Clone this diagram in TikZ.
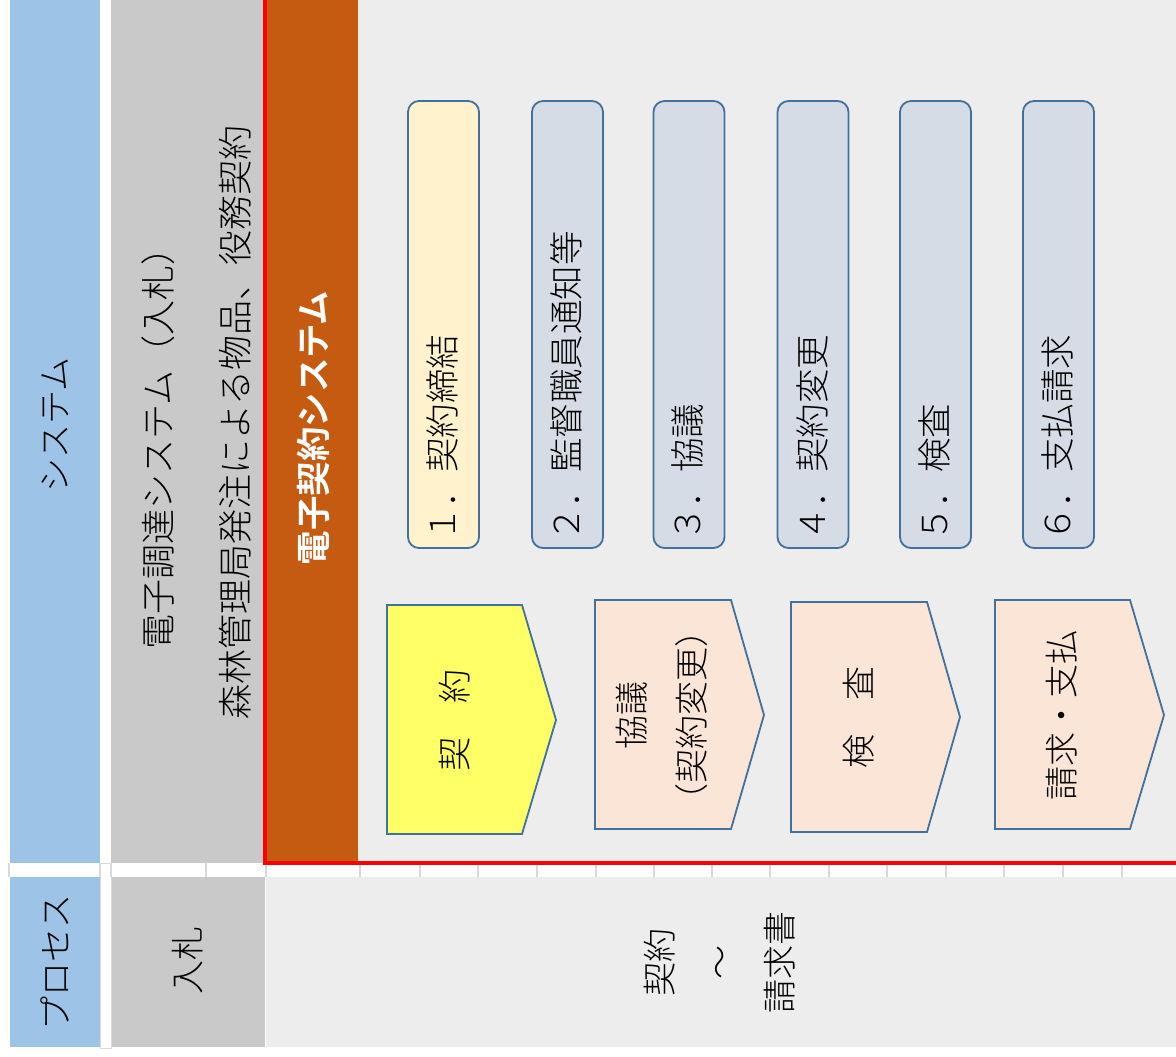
\documentclass[tikz,border=0pt]{standalone}
\usepackage{fontspec}
\setmainfont{Noto Sans CJK JP Light}[BoldFont={Noto Sans CJK JP Bold}]
\usetikzlibrary{calc}
\definecolor{sysblue}{HTML}{9DC3E6}
\definecolor{cellgray}{HTML}{C9C9C9}
\definecolor{ecorange}{HTML}{C55A11}
\definecolor{lightbg}{HTML}{EDEDED}
\definecolor{gridgray}{HTML}{D9D9D9}
\definecolor{boxedge}{HTML}{41719C}
\definecolor{cream}{HTML}{FFF2CC}
\definecolor{steel}{HTML}{D6DCE5}
\definecolor{brightyellow}{HTML}{FFFF66}
\definecolor{peach}{HTML}{FBE5D6}
\tikzset{
  txt/.style={font=\fontsize{34}{60}\selectfont, inner sep=0pt, rotate=90, align=center},
  widetxt/.style={txt, font=\fontsize{35}{60}\selectfont},
  toplbl/.style={font=\fontsize{34.5}{40}\selectfont, inner sep=0pt, rotate=90, anchor=west},
  stepbox/.style={draw=boxedge, line width=1.8pt, rounded corners=11pt, rotate=90,
    minimum width=447pt, minimum height=71pt, inner sep=0pt},
  chev/.style={draw=boxedge, line width=1.8pt, line join=miter},
  tick/.style={draw=gridgray, line width=1.6pt}
}
\begin{document}
\begin{tikzpicture}[x=1pt,y=-1pt]
\useasboundingbox (0,0) rectangle (1176,1057);
\fill[white] (0,0) rectangle (1176,1057);
% top band
\fill[sysblue] (10,0) rectangle (100,863);
\fill[cellgray] (111,0) rectangle (265,863);
\fill[ecorange] (265,0) rectangle (358,862);
\fill[lightbg] (358,0) rectangle (1176,862);
% bottom band
\fill[sysblue] (10,877) rectangle (100,1047);
\fill[cellgray] (111,877) rectangle (265,1047);
\fill[lightbg] (266,877) rectangle (1176,1047);
\draw[gridgray, line width=1pt] (100,863) rectangle (111,1048);
% grid ticks in the white strip
\foreach \gx in {9,100,111,206,266,360,420,478,537,596,654,712,770,829,887,946,1004,1063,1122}
  \draw[tick] (\gx,863) -- (\gx,877);
% red frame
\draw[red, line width=4.5pt] (265,-5) -- (265,863) -- (1185,863);

% left column labels
\node[txt] (sys) at (55,425) {システム};
\node[txt] (proc) at (55,962) {プロセス};
\node[widetxt] (l1) at (158,440) {電子調達システム（入札）};
\node[widetxt] (l2) at (235,423) {森林管理局発注による物品、役務契約};
\node[txt] (nyu) at (188,960) {入札};
\node[txt, text=white, font=\fontsize{34.5}{40}\selectfont\bfseries] (ec) at (313,428) {電子契約システム};
\node[txt] (range) at (720,962) {契約\\～\\請求書};

% step boxes
\node[stepbox, fill=cream] (b1) at (443.5,324.5) {};
\node[stepbox, fill=steel] (b2) at (567.5,324.5) {};
\node[stepbox, fill=steel] (b3) at (689,324.5) {};
\node[stepbox, fill=steel] (b4) at (813,324.5) {};
\node[stepbox, fill=steel] (b5) at (935.5,324.5) {};
\node[stepbox, fill=steel] (b6) at (1058.5,324.5) {};
\node[toplbl] (t1) at ($(b1.west)+(-1,-7)$) {１．契約締結};
\node[toplbl] (t2) at ($(b2.west)+(-1,-7)$) {２．監督職員通知等};
\node[toplbl] (t3) at ($(b3.west)+(-1,-7)$) {３．協議};
\node[toplbl] (t4) at ($(b4.west)+(-1,-7)$) {４．契約変更};
\node[toplbl] (t5) at ($(b5.west)+(-1,-7)$) {５．検査};
\node[toplbl] (t6) at ($(b6.west)+(-1,-7)$) {６．支払請求};

% chevrons
\draw[chev, fill=brightyellow] (387,605) -- (522,605) -- (556,720) -- (522,834) -- (387,834) -- cycle;
\draw[chev, fill=peach] (595,600) -- (731,600) -- (764,715) -- (731,829) -- (595,829) -- cycle;
\draw[chev, fill=peach] (791,602) -- (927,602) -- (960,717) -- (927,832) -- (791,832) -- cycle;
\draw[chev, fill=peach] (995,600) -- (1130,600) -- (1164,715) -- (1130,829) -- (995,829) -- cycle;
\node[txt] (c1) at (455,720) {契　約};
\node[txt] (c2) at (662,715) {協議\\（契約変更）};
\node[txt] (c3) at (859,717) {検　査};
\node[txt] (c4) at (1062,715) {請求・支払};
\end{tikzpicture}
\end{document}
